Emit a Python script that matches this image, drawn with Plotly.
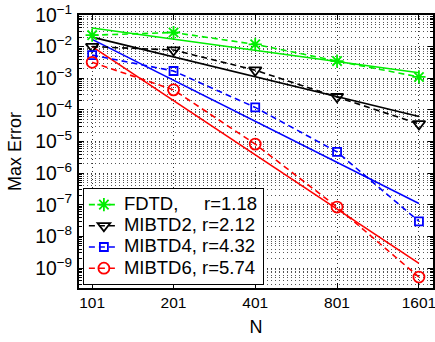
import plotly.graph_objects as go

# ---- data ----
N = [101, 201, 401, 801, 1601]
tick_labels = ["101", "201", "401", "801", "1601"]

err_fdtd = [2.3e-2, 2.8e-2, 1.18e-2, 3.5e-3, 1.1e-3]
err_mibtd2 = [1.0e-2, 7.8e-3, 1.8e-3, 2.6e-4, 3.6e-5]
err_mibtd4 = [5.4e-3, 1.7e-3, 1.2e-4, 4.7e-6, 3.0e-8]
err_mibtd6 = [3.2e-3, 4.3e-4, 8.3e-6, 8.5e-8, 5.2e-10]

fit_N = [101, 1601]
fit_fdtd = [3.9e-2, 1.5e-3]
fit_mibtd2 = [2.0e-2, 6.2e-5]
fit_mibtd4 = [1.7e-2, 1.1e-7]
fit_mibtd6 = [1.0e-2, 1.4e-9]

names = ["FDTD,\u00a0\u00a0\u00a0\u00a0 r=1.18", "MIBTD2, r=2.12", "MIBTD4, r=4.32", "MIBTD6, r=5.74"]

series = [
    (err_fdtd, fit_fdtd, "#00ee00", "asterisk-open", 11),
    (err_mibtd2, fit_mibtd2, "#000000", "triangle-down-open", 11),
    (err_mibtd4, fit_mibtd4, "#0000ff", "square-open", 8),
    (err_mibtd6, fit_mibtd6, "#ff0000", "circle-open", 11),
]

FONT = "Liberation Sans, Arial, Helvetica, sans-serif"

fig = go.Figure()
for (err, fit, col, sym, sz), name in zip(series, names):
    fig.add_trace(go.Scatter(
        x=fit_N, y=fit, mode="lines", showlegend=False,
        line=dict(color=col, width=1.6), hoverinfo="skip"))
for (err, fit, col, sym, sz), name in zip(series, names):
    fig.add_trace(go.Scatter(
        x=N, y=err, mode="lines+markers",
        name='<span style="font-size:18.5px">' + name + '</span>',
        line=dict(color=col, width=1.6, dash="6px,4px"),
        marker=dict(symbol=sym, size=sz, color=col, line=dict(color=col, width=1.8))))

axis_common = dict(
    showline=True, linecolor="black", linewidth=1.5, mirror="allticks",
    ticks="inside", ticklen=5, tickcolor="black",
    gridcolor="#333333", griddash="1px,3px", gridwidth=1,
    zeroline=False, automargin=False, ticklabeloverflow="allow",
    tickfont=dict(family=FONT, size=15.5, color="black"),
)

fig.update_xaxes(
    type="log", range=[1.956, 3.256],
    tickvals=N, ticktext=tick_labels,
    title=dict(text="N", font=dict(family=FONT, size=18, color="black"), standoff=10),
    **axis_common)
fig.update_yaxes(
    type="log", range=[-9.63, -1], dtick=1, exponentformat="power",
    ticklabelstandoff=2,
    title=dict(text="Max Error", font=dict(family=FONT, size=18, color="black"), standoff=9),
    minor=dict(dtick="D1", showgrid=True, gridcolor="#555555", griddash="1px,3px",
               gridwidth=1, ticks="inside", ticklen=3, tickcolor="black"),
    **axis_common)

fig.update_layout(
    width=435, height=342,
    margin=dict(l=79, r=2, t=15, b=54),
    paper_bgcolor="white", plot_bgcolor="white",
    font=dict(family=FONT, size=16, color="black"),
    legend=dict(x=0.011, y=0.011, xanchor="left", yanchor="bottom",
                bgcolor="white", bordercolor="black", borderwidth=1,
                font=dict(family=FONT, size=14, color="black"),
                tracegroupgap=0, itemwidth=30),
)

# remove the page's default 8px body margin so the figure fills the window exactly
fig.write_html("out.html", config={"displayModeBar": False},
               post_script="document.body.style.margin='0';")
